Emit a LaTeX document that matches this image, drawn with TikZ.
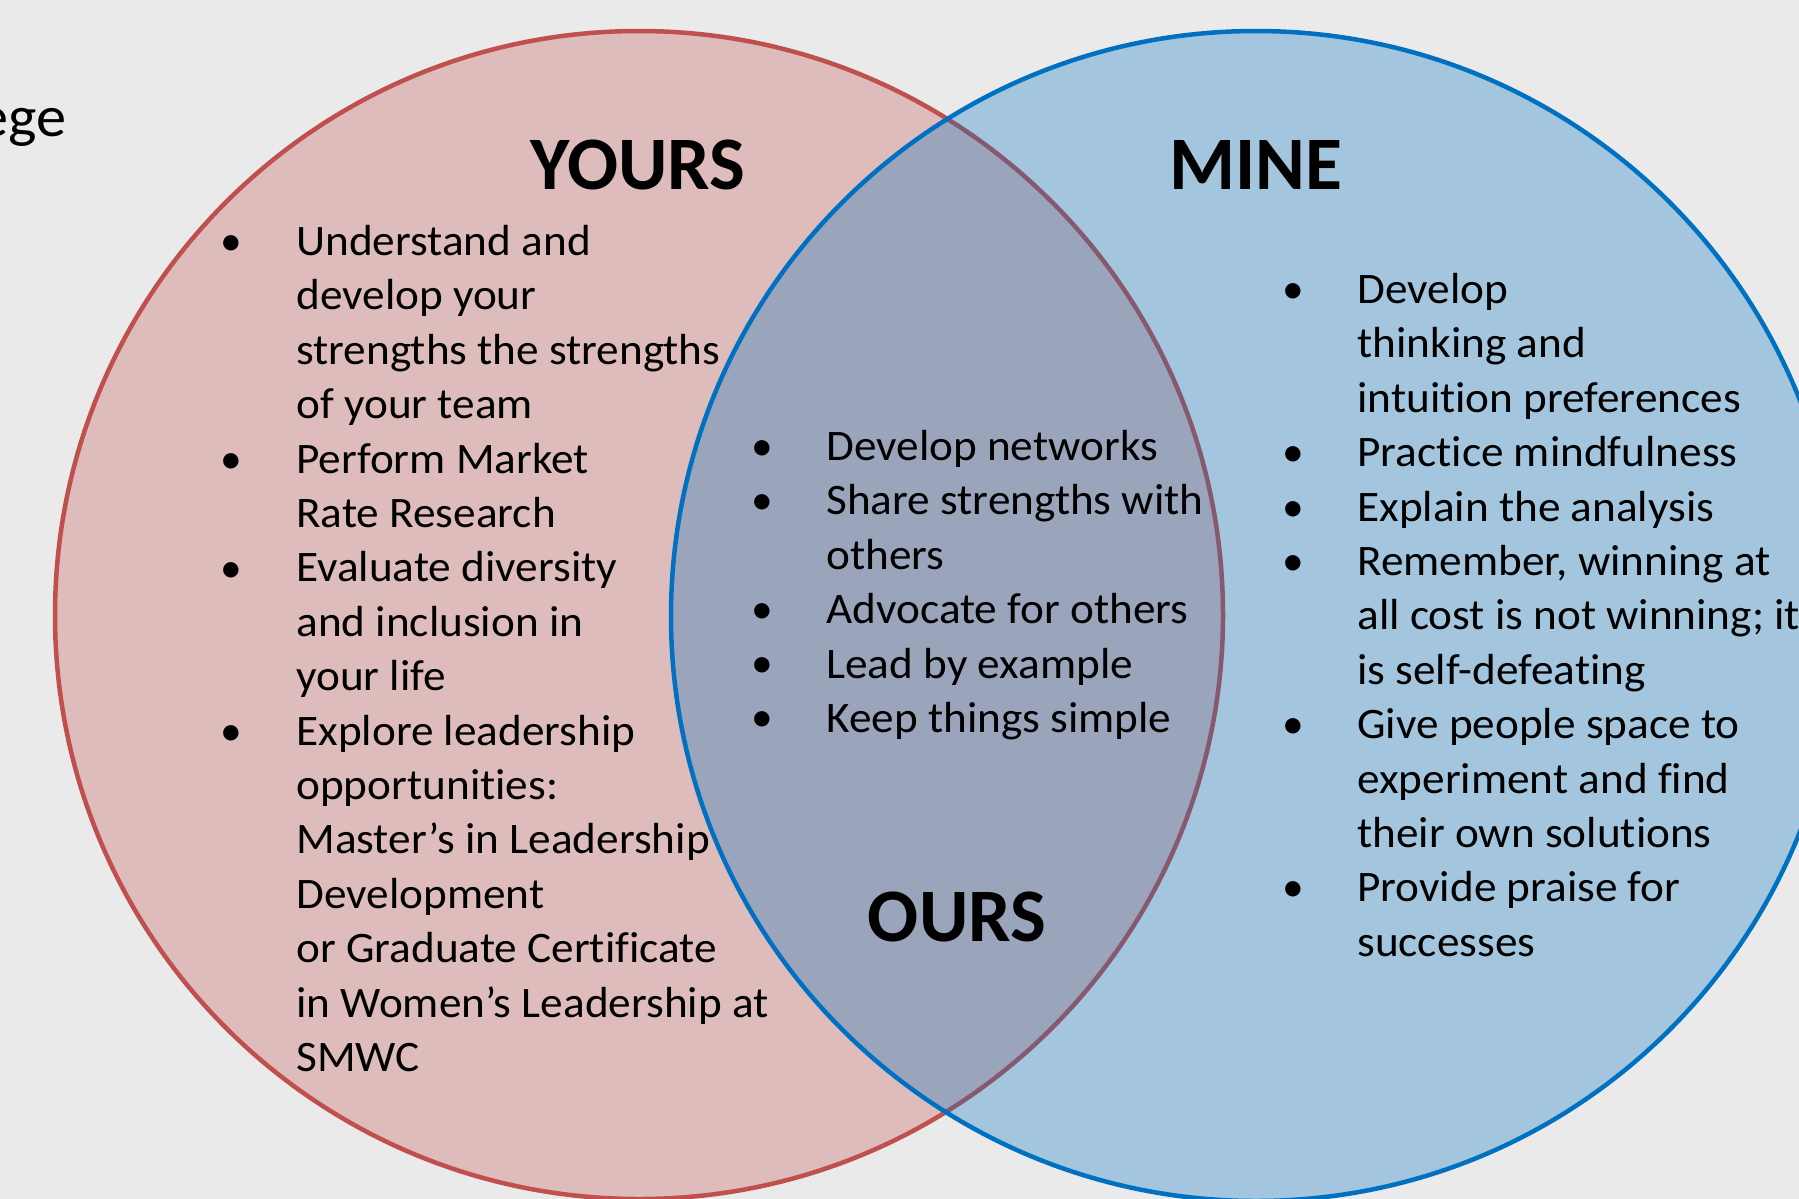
\documentclass[tikz,border=0pt]{standalone}
\usepackage{fontspec}
\setmainfont{Carlito}
\newfontfamily\listfont[FakeStretch=1.04,Ligatures=NoCommon]{Carlito}
\definecolor{bg}{HTML}{EAEAEA}
\definecolor{yoursline}{HTML}{C0504D}
\definecolor{mineline}{HTML}{0070C0}
\begin{document}
\begin{tikzpicture}[x=0.5pt,y=-0.5pt,
  listtext/.style={font=\listfont\fontsize{21.75}{27.2}\selectfont, inner sep=0pt, anchor=north west, align=left},
  bulletmark/.style={font=\fontsize{21.75}{27.2}\selectfont, inner sep=0pt, anchor=base},
  heading/.style={font=\fontsize{37.8}{45}\selectfont\bfseries, inner sep=0pt, anchor=base},
  yoursset/.style={fill=yoursline!30!bg, draw=yoursline, line width=2.25pt},
  mineset/.style={fill=mineline, fill opacity=0.3, draw=mineline, draw opacity=1, line width=2.25pt},
]
% canvas
\fill[bg] (0,0) rectangle (1799,1199);
\clip (0,0) rectangle (1799,1199);

% the two sets
\draw[yoursset] (639,615) circle [radius=292pt];
\draw[mineset] (1256,616) circle [radius=292.5pt];

% cut-off word at the left margin
\node[font=\listfont\fontsize{29}{35}\selectfont, inner sep=0pt, anchor=base east] (side) at (67,136) {ege};

% headings
\node[heading] (yoursHead) at (638,189) {YOURS};
\node[heading] (mineHead) at (1256,189) {MINE};
\node[heading] (oursHead) at (957,941) {OURS};

% YOURS list
\node[listtext] (yoursList) at (296,215) {\rule{0pt}{20pt}Understand and\\develop your\\strengths the strengths\\of your team\\Perform Market\\Rate Research\\Evaluate diversity\\and inclusion in\\your life\\Explore leadership\\opportunities:\\Master’s in Leadership\\Development\\or Graduate Certificate\\in Women’s Leadership at\\SMWC};
\node[bulletmark] (y1) at (231,255) {•};
\node[bulletmark] (y2) at (231,473) {•};
\node[bulletmark] (y3) at (231,582) {•};
\node[bulletmark] (y4) at (231,745) {•};

% OURS list
\node[listtext] (oursList) at (826,420) {\rule{0pt}{20pt}Develop networks\\Share strengths with\\others\\Advocate for others\\Lead by example\\Keep things simple};
\node[bulletmark] (o1) at (762,460) {•};
\node[bulletmark] (o2) at (762,514) {•};
\node[bulletmark] (o3) at (762,623) {•};
\node[bulletmark] (o4) at (762,677) {•};
\node[bulletmark] (o5) at (762,731) {•};

% MINE list
\node[listtext] (mineList) at (1357,263) {\rule{0pt}{20pt}Develop\\thinking and\\intuition preferences\\Practice mindfulness\\Explain the analysis\\Remember, winning at\\all cost is not winning; it\\is self-defeating\\Give people space to\\experiment and find\\their own solutions\\Provide praise for\\successes};
\node[bulletmark] (m1) at (1293,303) {•};
\node[bulletmark] (m2) at (1293,466) {•};
\node[bulletmark] (m3) at (1293,521) {•};
\node[bulletmark] (m4) at (1293,575) {•};
\node[bulletmark] (m5) at (1293,738) {•};
\node[bulletmark] (m6) at (1293,901) {•};
\end{tikzpicture}
\end{document}
